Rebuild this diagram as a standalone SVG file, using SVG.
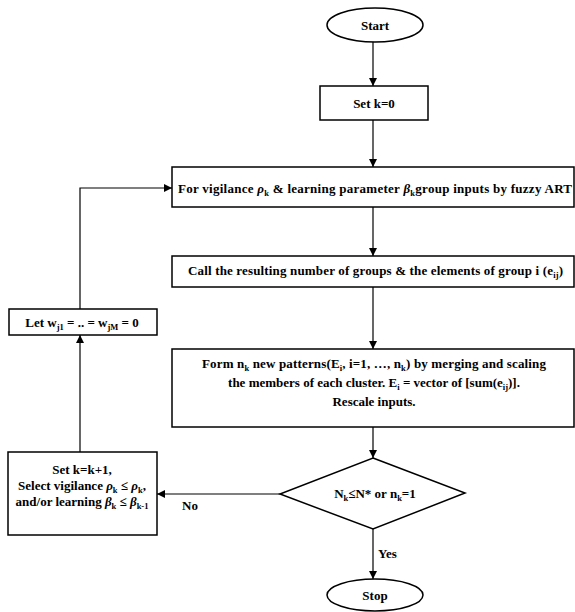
<svg xmlns="http://www.w3.org/2000/svg" width="575" height="612" viewBox="0 0 575 612">
<style>
.t{font-family:'Liberation Serif','Times New Roman',serif;font-size:13px;font-weight:bold;fill:#000;}
.s{font-size:8.5px;}
.g{font-style:italic;}
.b{fill:#fff;stroke:#000;stroke-width:1.5;}
.c{fill:none;stroke:#000;stroke-width:1.2;}
</style>
<defs>
<marker id="ah" viewBox="0 0 10 10" refX="10" refY="5" markerWidth="9" markerHeight="8" markerUnits="userSpaceOnUse" orient="auto">
<path d="M0,0 L10,5 L0,10 z" fill="#000"/>
</marker>
</defs>
<g id="connectors">
<line class="c" x1="373" y1="42" x2="373" y2="86" marker-end="url(#ah)"/>
<line class="c" x1="373" y1="120" x2="373" y2="167" marker-end="url(#ah)"/>
<line class="c" x1="373" y1="207" x2="373" y2="256" marker-end="url(#ah)"/>
<line class="c" x1="373" y1="287" x2="373" y2="349" marker-end="url(#ah)"/>
<line class="c" x1="373" y1="427" x2="373" y2="458" marker-end="url(#ah)"/>
<line class="c" x1="373" y1="529" x2="373" y2="579" marker-end="url(#ah)"/>
<line class="c" x1="280" y1="494" x2="157" y2="494" marker-end="url(#ah)"/>
<line class="c" x1="80" y1="452" x2="80" y2="335" marker-end="url(#ah)"/>
<polyline class="c" points="80,309 80,188 172,188" marker-end="url(#ah)"/>
<text class="t" x="182" y="510">No</text>
<text class="t" x="378" y="558">Yes</text>
</g>
<g id="start">
<ellipse class="b" cx="375" cy="25" rx="48" ry="17"/>
<text class="t" x="375" y="30" text-anchor="middle">Start</text>
</g>
<g id="setk0">
<rect class="b" x="320" y="86" width="108" height="34"/>
<text class="t" x="374" y="108" text-anchor="middle">Set k=0</text>
</g>
<g id="fuzzyart">
<rect class="b" x="172" y="167" width="402" height="40"/>
<text class="t" x="178" y="193" textLength="394" lengthAdjust="spacing">For vigilance <tspan class="g">ρ</tspan><tspan class="s" dy="3">k</tspan><tspan dy="-3"> &amp; learning parameter </tspan><tspan class="g">β</tspan><tspan class="s" dy="3">k</tspan><tspan dy="-3">group inputs by fuzzy ART</tspan></text>
</g>
<g id="callgroups">
<rect class="b" x="172" y="256" width="402" height="31"/>
<text class="t" x="188" y="275" textLength="375" lengthAdjust="spacing">Call the resulting number of groups &amp; the elements of group i (e<tspan class="s" dy="3">ij</tspan><tspan dy="-3">)</tspan></text>
</g>
<g id="form">
<rect class="b" x="172" y="349" width="402" height="78"/>
<text class="t" x="202" y="368" textLength="344" lengthAdjust="spacing">Form n<tspan class="s" dy="3">k</tspan><tspan dy="-3"> new patterns(E</tspan><tspan class="s" dy="3">i</tspan><tspan dy="-3">, i=1, …, n</tspan><tspan class="s" dy="3">k</tspan><tspan dy="-3">) by merging and scaling</tspan></text>
<text class="t" x="374" y="387" text-anchor="middle">the members of each cluster. E<tspan class="s" dy="3">i</tspan><tspan dy="-3"> = vector of [sum(e</tspan><tspan class="s" dy="3">ij</tspan><tspan dy="-3">)].</tspan></text>
<text class="t" x="374" y="406" text-anchor="middle">Rescale inputs.</text>
</g>
<g id="decision">
<polygon class="b" points="373,458 465,493 373,529 280,494"/>
<text class="t" x="375" y="498" text-anchor="middle">N<tspan class="s" dy="3">k</tspan><tspan dy="-3">≤N* or n</tspan><tspan class="s" dy="3">k</tspan><tspan dy="-3">=1</tspan></text>
</g>
<g id="stop">
<ellipse class="b" cx="375" cy="595" rx="48" ry="16"/>
<text class="t" x="375" y="600" text-anchor="middle">Stop</text>
</g>
<g id="update">
<rect class="b" x="8" y="452" width="149" height="83"/>
<text class="t" x="82" y="474" text-anchor="middle">Set k=k+1,</text>
<text class="t" x="82" y="490" text-anchor="middle">Select vigilance <tspan class="g">ρ</tspan><tspan class="s" dy="3">k</tspan><tspan dy="-3"> ≤ </tspan><tspan class="g">ρ</tspan><tspan class="s" dy="3">k</tspan><tspan dy="-3">,</tspan></text>
<text class="t" x="82" y="506" text-anchor="middle">and/or learning  <tspan class="g">β</tspan><tspan class="s" dy="3">k</tspan><tspan dy="-3"> ≤ </tspan><tspan class="g">β</tspan><tspan class="s" dy="3">k-1</tspan></text>
</g>
<g id="reset">
<rect class="b" x="9" y="309" width="148" height="26"/>
<text class="t" x="82" y="327" text-anchor="middle">Let w<tspan class="s" dy="3">j1</tspan><tspan dy="-3"> = ..  = w</tspan><tspan class="s" dy="3">jM</tspan><tspan dy="-3"> = 0</tspan></text>
</g>
</svg>
